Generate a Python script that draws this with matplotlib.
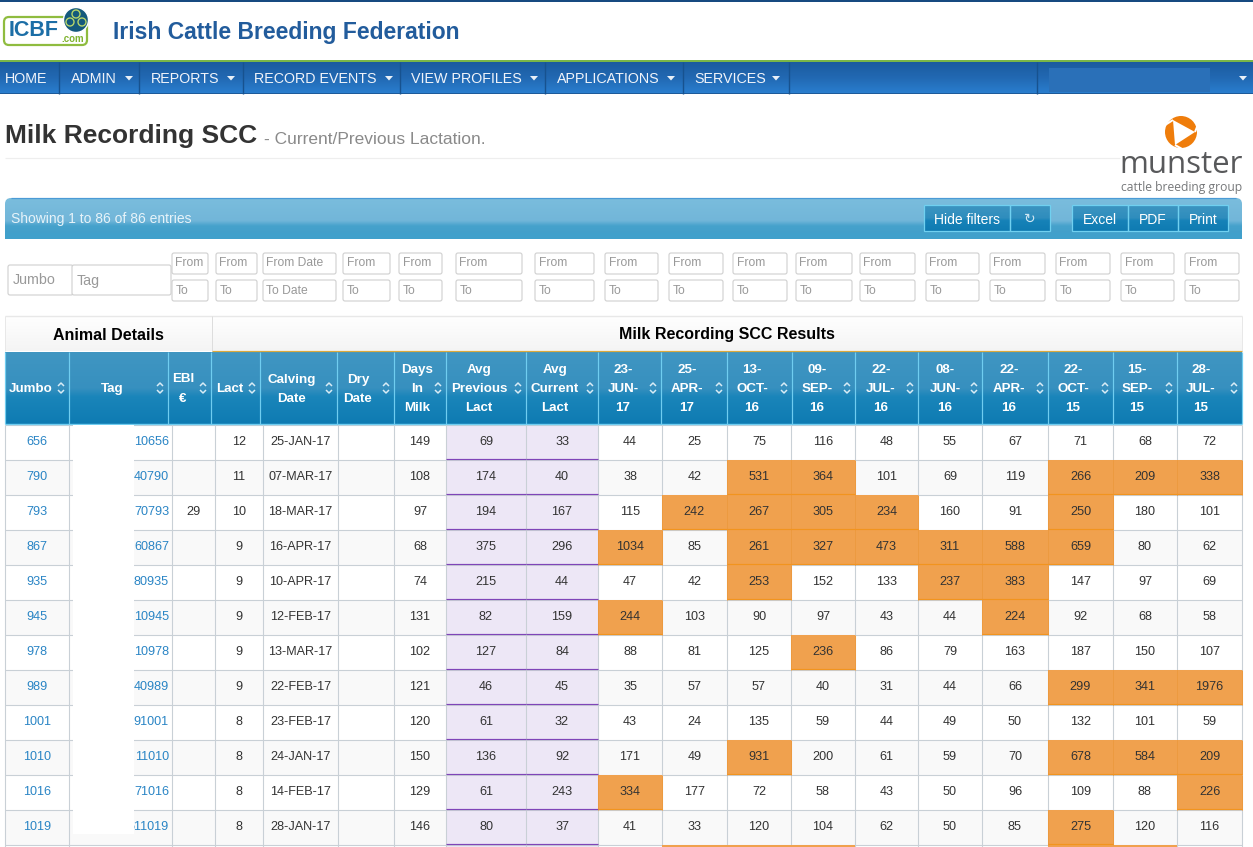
import numpy as np
import matplotlib
matplotlib.use('Agg')
import matplotlib.pyplot as plt
from matplotlib.patches import Rectangle, FancyBboxPatch, Circle, Polygon

plt.rcParams['font.family'] = ['Liberation Sans', 'DejaVu Sans']

# table data
jumbo = [656, 790, 793, 867, 935, 945, 978, 989, 1001, 1010, 1016, 1019]
tag = ['10656', '40790', '70793', '60867', '80935', '10945', '10978', '40989', '91001', '11010', '71016', '611019']
ebi = ['', '', '29', '', '', '', '', '', '', '', '', '']
lact = [12, 11, 10, 9, 9, 9, 9, 9, 8, 8, 8, 8]
calving = ['25-JAN-17', '07-MAR-17', '18-MAR-17', '16-APR-17', '10-APR-17', '12-FEB-17',
           '13-MAR-17', '22-FEB-17', '23-FEB-17', '24-JAN-17', '14-FEB-17', '28-JAN-17']
days_in_milk = [149, 108, 97, 68, 74, 131, 102, 121, 120, 150, 129, 146]
avg_previous = [69, 174, 194, 375, 215, 82, 127, 46, 61, 136, 61, 80]
avg_current = [33, 40, 167, 296, 44, 159, 84, 45, 32, 92, 243, 37]
test_dates = ['23-\nJUN-\n17', '25-\nAPR-\n17', '13-\nOCT-\n16', '09-\nSEP-\n16', '22-\nJUL-\n16',
              '08-\nJUN-\n16', '22-\nAPR-\n16', '22-\nOCT-\n15', '15-\nSEP-\n15', '28-\nJUL-\n15']
scc = [
    [44, 25, 75, 116, 48, 55, 67, 71, 68, 72],
    [38, 42, 531, 364, 101, 69, 119, 266, 209, 338],
    [115, 242, 267, 305, 234, 160, 91, 250, 180, 101],
    [1034, 85, 261, 327, 473, 311, 588, 659, 80, 62],
    [47, 42, 253, 152, 133, 237, 383, 147, 97, 69],
    [244, 103, 90, 97, 43, 44, 224, 92, 68, 58],
    [88, 81, 125, 236, 86, 79, 163, 187, 150, 107],
    [35, 57, 57, 40, 31, 44, 66, 299, 341, 1976],
    [43, 24, 135, 59, 44, 49, 50, 132, 101, 59],
    [171, 49, 931, 200, 61, 59, 70, 678, 584, 209],
    [334, 177, 72, 58, 43, 50, 96, 109, 88, 226],
    [41, 33, 120, 104, 62, 50, 85, 275, 120, 116],
]
# row cut off by the bottom of the screenshot, only the colours show
cut_row_high = [False, True, True, True, False, False, False, True, True, False]
high_limit = 200

header_labels = ['Jumbo', 'Tag', 'EBI\n€', 'Lact', 'Calving\nDate', 'Dry\nDate', 'Days\nIn\nMilk',
                 'Avg\nPrevious\nLact', 'Avg\nCurrent\nLact'] + test_dates
nav_items = ['HOME', 'ADMIN', 'REPORTS', 'RECORD EVENTS', 'VIEW PROFILES', 'APPLICATIONS', 'SERVICES']

# layout, in screenshot pixels
header_edges = [5, 69, 168, 211, 260, 337, 394, 446, 526, 598, 661, 727, 792, 855, 918, 982, 1048, 1113, 1177, 1242]
body_edges = [5, 69, 172, 215, 263, 338, 394, 446, 526, 598, 662, 727, 791, 855, 918, 982, 1048, 1113, 1177, 1242]
header_text_x = [31, 112, 183, 230, 292, 358, 417, 479, 555, 623, 687, 752, 817, 881, 945, 1009, 1073, 1137, 1201]
nav_text_x = [5, 71, 151, 254, 411, 557, 694]
nav_seps = [59, 139, 243, 400, 545, 683, 789, 1037]
nav_caret_x = [None, 128, 230, 388, 533, 670, 775]
from_boxes = [(172, 208), (216, 257), (263, 336), (343, 390), (399, 442), (456, 522), (535, 594), (605, 658),
              (669, 723), (733, 787), (796, 852), (860, 915), (926, 979), (990, 1045), (1056, 1110), (1121, 1174), (1185, 1239)]
row_top = 425
row_h = 35

BODY = 9.1
LINK = '#2a85c5'
TXT = '#333333'
GRID = '#c9d0d6'


def gradient(ax, x0, y0, x1, y1, stops, z=1, clip=None):
    # stops are (fraction, colour) pairs from top to bottom
    ys = np.linspace(0, 1, 128)
    cols = np.array([matplotlib.colors.to_rgb(c) for _, c in stops])
    fr = [f for f, _ in stops]
    img = np.stack([np.interp(ys, fr, cols[:, i]) for i in range(3)], axis=1)[:, None, :]
    im = ax.imshow(img, extent=(x0, x1, y1, y0), aspect='auto', zorder=z, interpolation='bilinear')
    if clip is not None:
        im.set_clip_path(clip)
    return im


def box(ax, x0, y0, x1, y1, fc='none', ec='none', lw=0, z=2):
    ax.add_patch(Rectangle((x0, y0), x1 - x0, y1 - y0, facecolor=fc, edgecolor=ec, linewidth=lw, zorder=z))


def line(ax, xs, ys, color, lw=1.0, z=3):
    ax.plot(xs, ys, color=color, lw=lw * 0.72, zorder=z, solid_capstyle='butt')


def input_box(ax, x0, y0, x1, y1, label, size=8.7, text_dx=3.5, text_dy=0):
    ax.add_patch(FancyBboxPatch((x0 + 2, y0 + 2), x1 - x0 - 4, y1 - y0 - 4, boxstyle='round,pad=2,rounding_size=2',
                                facecolor='white', edgecolor='#cfcfcf', linewidth=0.8, zorder=2))
    ax.text(x0 + text_dx, (y0 + y1) / 2 + text_dy, label, fontsize=size, color='#999999', va='center', ha='left', zorder=4)


def sort_icon(ax, x, y):
    line(ax, [x - 3, x, x + 3], [y - 2, y - 5, y - 2], '#d8ecf6', 1.5, 5)
    line(ax, [x - 3, x, x + 3], [y + 2, y + 5, y + 2], '#d8ecf6', 1.5, 5)


def caret(ax, x, y, size=4):
    ax.add_patch(Polygon([(x - size, y - 2), (x + size, y - 2), (x, y + 2.5)], facecolor='#e8f0f8', edgecolor='none', zorder=5))


fig = plt.figure(figsize=(12.53, 8.47), dpi=100)
ax = fig.add_axes([0, 0, 1, 1])
ax.axis('off')

# top banner
box(ax, 0, 0, 1253, 2, fc='#174a80')
box(ax, 0, 60, 1253, 62.5, fc='#7ab648')
ax.text(113, 32.5, 'Irish Cattle Breeding Federation', fontsize=16.45, fontweight='bold', color='#225c9c', va='center', zorder=4)

# ICBF logo
ax.add_patch(FancyBboxPatch((5, 18), 81, 26, boxstyle='round,pad=1,rounding_size=5', facecolor='white',
                            edgecolor='#8fbc3f', linewidth=1.6, zorder=2))
ax.text(9, 31, 'ICBF', fontsize=15.5, fontweight='bold', color='#1c6ea6', va='center', zorder=4)
ax.text(61, 38.5, '.com', fontsize=7, fontweight='bold', color='#7fb32e', va='center', zorder=4)
ax.add_patch(Circle((76, 20), 12.5, facecolor='#14597c', edgecolor='white', linewidth=1, zorder=3))
for cx, cy in [(76, 14), (70, 22), (82, 22)]:
    ax.add_patch(Circle((cx, cy), 4, facecolor='none', edgecolor='#b5d56a', linewidth=1, zorder=4))

# navigation bar
gradient(ax, 0, 62, 1253, 94, [(0, '#1b5b9f'), (0.5, '#2269b3'), (1, '#2a7fd0')])
box(ax, 0, 93, 1253, 94.5, fc='#1d5a99', z=2)
for x in nav_seps:
    line(ax, [x, x], [62, 94], '#17528f', 1.4)
for item, x, cx in zip(nav_items, nav_text_x, nav_caret_x):
    ax.text(x, 79, item, fontsize=10.3, color='#f0f4fa', va='center', zorder=4)
    if cx:
        caret(ax, cx + 1, 78)
box(ax, 1049, 68, 1210, 92, fc='#2a70b8', z=2)
caret(ax, 1243, 78)

# page title
ax.text(5, 136.5, 'Milk Recording SCC', fontsize=19.0, fontweight='bold', color='#333333', va='center', zorder=4)
ax.text(264, 139, '- Current/Previous Lactation.', fontsize=12.55, color='#8a8a8a', va='center', zorder=4)
line(ax, [5, 1120], [158, 158], '#eeeeee', 1.2)

# munster logo
ax.add_patch(Circle((1181, 132), 16, facecolor='#ef7d0b', edgecolor='none', zorder=3))
ax.add_patch(Polygon([(1195, 132), (1173, 120), (1175, 145)], facecolor='white', edgecolor='none', zorder=4))
line(ax, [1195, 1199], [132, 122], 'white', 2, 4)
line(ax, [1173, 1162], [120, 127], 'white', 2, 4)
line(ax, [1175, 1184], [145, 150], 'white', 2, 4)
ax.text(1181.5, 165, 'munster', fontsize=22.5, color='#58595b', family=['Open Sans', 'DejaVu Sans'], ha='center', va='center', zorder=4)
ax.text(1181.5, 187, 'cattle breeding group', fontsize=8.7, color='#76787a', family=['Open Sans', 'DejaVu Sans'], ha='center', va='center', zorder=4)

# blue table toolbar
bar = FancyBboxPatch((9, 202), 1229, 37, boxstyle='round,pad=4,rounding_size=6', facecolor='none', edgecolor='none', zorder=1)
ax.add_patch(bar)
gradient(ax, 5, 198, 1242, 239, [(0, '#7abddd'), (0.55, '#72b6d9'), (0.68, '#46a2cc'), (1, '#3f9dc9')], clip=bar)
box(ax, 5, 233, 1242, 239, fc='#40a0cb', z=1.5)
line(ax, [11, 1236], [198.3, 198.3], '#4b9bd6', 1.2)
ax.text(11, 219, 'Showing 1 to 86 of 86 entries', fontsize=10, color='#e6f3f9', va='center', zorder=4)
for label, x0, x1 in [('Hide filters', 924, 1010), ('', 1010, 1050), ('Excel', 1072, 1128), ('PDF', 1128, 1178), ('Print', 1178, 1228)]:
    gradient(ax, x0, 205, x1, 231, [(0, '#3d95c1'), (0.5, '#2f8dbd'), (0.6, '#1682b8'), (1, '#0f7bb2')], z=2)
    box(ax, x0, 205, x1, 231, ec='#70d0f0', lw=0.9, z=3)
    if label:
        ax.text((x0 + x1) / 2, 220, label, fontsize=10, color='white', ha='center', va='center', zorder=4)
ax.text(1030, 219, '↻', fontsize=10, color='#cfe6f2', ha='center', va='center', zorder=4, family='DejaVu Sans')

# filter inputs
input_box(ax, 8, 265, 73, 295, 'Jumbo', 10.3, 5, 0.5)
input_box(ax, 72, 265, 171, 295, 'Tag', 10.3, 5, 0.5)
for i, (x0, x1) in enumerate(from_boxes):
    date_col = i == 2
    input_box(ax, x0, 253, x1, 274, 'From Date' if date_col else 'From')
    input_box(ax, x0, 280, x1, 301, 'To Date' if date_col else 'To')

# group header band
gradient(ax, 5, 316, 1242, 351, [(0, '#ffffff'), (1, '#f4f4f4')])
line(ax, [5, 1242], [316, 316], '#e8e8e8', 1.4)
line(ax, [5, 5], [316, 351], '#e8e8e8', 1)
line(ax, [1242, 1242], [316, 351], '#e8e8e8', 1)
line(ax, [212, 212], [316, 351], '#dddddd', 1)
line(ax, [212, 1242], [351, 351], '#dba93c', 1.2, 6)
ax.text(108, 335, 'Animal Details', fontsize=11.5, fontweight='bold', color='black', ha='center', va='center', zorder=4)
ax.text(727, 335, 'Milk Recording SCC Results', fontsize=11.5, fontweight='bold', color='black', ha='center', va='center', zorder=4)

# column headers
gradient(ax, 5, 352, 1242, 424, [(0, '#4096c2'), (0.5, '#3790bf'), (0.62, '#1a85ba'), (1, '#0e7bb2')])
for x in header_edges:
    line(ax, [x, x], [352, 424], '#70cdf0', 1.2)
line(ax, [5, 1242], [424.5, 424.5], '#70cdf0', 1.4)
for label, x, right in zip(header_labels, header_text_x, header_edges[1:]):
    lines = label.split('\n')
    for k, part in enumerate(lines):
        y = 389 + (k - (len(lines) - 1) / 2) * 19
        ax.text(x, y, part, fontsize=9.6, fontweight='bold', color='white', ha='center', va='center', zorder=6)
    sort_icon(ax, right - 8, 388)

# body rows
for r in range(len(jumbo)):
    y0 = row_top + r * row_h
    y1 = y0 + row_h
    ym = y0 + row_h / 2 - 0.5
    fill = '#ffffff' if r % 2 == 0 else '#f9f9f9'
    box(ax, 5, y0, 1242, y1, fc=fill, z=1)

    # average columns
    for c in [7, 8]:
        box(ax, body_edges[c], y0, body_edges[c + 1], y1, fc='#ede7f6', z=1.5)
        line(ax, [body_edges[c], body_edges[c + 1]], [y1 - 0.5, y1 - 0.5], '#7f45b8', 1.2, 3.5)

    # test date columns, over the limit in orange
    for c, val in enumerate(scc[r]):
        x0, x1 = body_edges[c + 9], body_edges[c + 10]
        if val > high_limit:
            box(ax, x0, y0, x1, y1, fc='#f0a14e', z=3.2)
            line(ax, [x0, x1], [y1 - 0.5, y1 - 0.5], '#f2941e', 1.2, 3.5)
            line(ax, [x0, x0], [y0, y1], '#ec9a40', 1, 3.4)
            line(ax, [x1, x1], [y0, y1], '#ec9a40', 1, 3.4)
        ax.text((x0 + x1) / 2, ym, str(val), fontsize=BODY, color=TXT, ha='center', va='center', zorder=6)

    cells = [ebi[r], lact[r], calving[r], '', days_in_milk[r], avg_previous[r], avg_current[r]]
    for c, val in enumerate(cells):
        ax.text((body_edges[c + 2] + body_edges[c + 3]) / 2, ym, str(val), fontsize=BODY, color=TXT, ha='center', va='center', zorder=6)
    ax.text(37, ym, str(jumbo[r]), fontsize=BODY, color=LINK, ha='center', va='center', zorder=6)
    ax.text(169, ym, tag[r], fontsize=BODY, color=LINK, ha='right', va='center', zorder=6)

# sliver of the next row
cut_top = row_top + len(jumbo) * row_h
box(ax, 5, cut_top, 1242, 847, fc='#ffffff', z=1)
for c in [7, 8]:
    box(ax, body_edges[c], cut_top, body_edges[c + 1], 847, fc='#ede7f6', z=1.5)
for c, high in enumerate(cut_row_high):
    if high:
        box(ax, body_edges[c + 9], cut_top, body_edges[c + 10], 847, fc='#f0a14e', z=3.2)

# grid
for x in body_edges:
    line(ax, [x, x], [row_top, 847], GRID, 1.1)
for r in range(len(jumbo) + 1):
    y = row_top + r * row_h
    line(ax, [5, 1242], [y, y], GRID, 1.1, 2.5)

# masked out part of the tag column
box(ax, 73, 425, 134, 834, fc='white', z=7)

ax.set_xlim(0, 1253)
ax.set_ylim(847, 0)
fig.savefig('out.png', dpi=100)
